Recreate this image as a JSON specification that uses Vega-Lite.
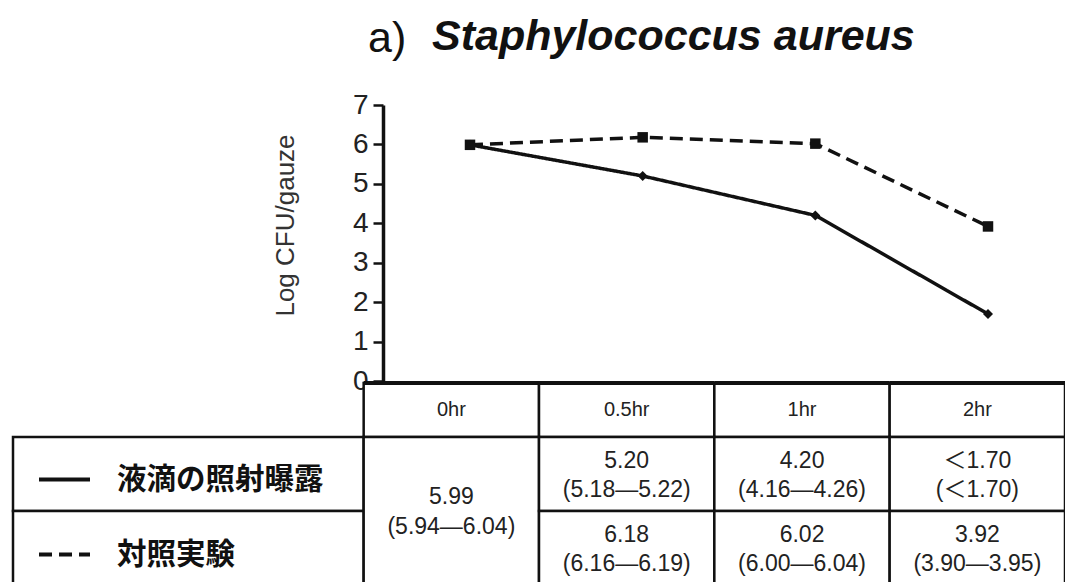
{
  "$schema": "https://vega.github.io/schema/vega-lite/v6.json",
  "width": 1065,
  "height": 582,
  "padding": 0,
  "autosize": {"type": "none"},
  "background": "white",
  "config": {"view": {"stroke": null}, "font": "Liberation Sans"},
  "title": {
    "text": "a)",
    "subtitle": "Staphylococcus aureus",
    "orient": "top",
    "anchor": "start",
    "frame": "group",
    "offset": -63,
    "dx": 368,
    "font": "Liberation Sans",
    "fontSize": 43,
    "fontWeight": "normal",
    "color": "#111",
    "subtitleFont": "Liberation Sans",
    "subtitleFontSize": 43,
    "subtitleFontStyle": "italic",
    "subtitleFontWeight": "bold",
    "subtitleColor": "#111",
    "subtitlePadding": -45,
    "encode": {"subtitle": {"update": {"dx": {"value": 432}}}}
  },
  "datasets": {
    "series": [
      {"time": "0hr", "group": "液滴の照射曝露", "logcfu": 5.99},
      {"time": "0.5hr", "group": "液滴の照射曝露", "logcfu": 5.20},
      {"time": "1hr", "group": "液滴の照射曝露", "logcfu": 4.20},
      {"time": "2hr", "group": "液滴の照射曝露", "logcfu": 1.70},
      {"time": "0hr", "group": "対照実験", "logcfu": 5.99},
      {"time": "0.5hr", "group": "対照実験", "logcfu": 6.18},
      {"time": "1hr", "group": "対照実験", "logcfu": 6.02},
      {"time": "2hr", "group": "対照実験", "logcfu": 3.92}
    ],
    "cells": [
      {"c0": 2, "c1": 3, "r0": 0, "r1": 1, "part": "header", "text": "0hr"},
      {"c0": 3, "c1": 4, "r0": 0, "r1": 1, "part": "header", "text": "0.5hr"},
      {"c0": 4, "c1": 5, "r0": 0, "r1": 1, "part": "header", "text": "1hr"},
      {"c0": 5, "c1": 6, "r0": 0, "r1": 1, "part": "header", "text": "2hr"},
      {"c0": 0, "c1": 2, "r0": 1, "r1": 2, "part": "legend", "text": ""},
      {"c0": 0, "c1": 2, "r0": 2, "r1": 3, "part": "legend", "text": ""},
      {"c0": 2, "c1": 3, "r0": 1, "r1": 3, "part": "merged", "text": "5.99\n(5.94—6.04)"},
      {"c0": 3, "c1": 4, "r0": 1, "r1": 2, "part": "value", "text": "5.20\n(5.18—5.22)"},
      {"c0": 4, "c1": 5, "r0": 1, "r1": 2, "part": "value", "text": "4.20\n(4.16—4.26)"},
      {"c0": 5, "c1": 6, "r0": 1, "r1": 2, "part": "value", "text": "＜1.70\n(＜1.70)"},
      {"c0": 3, "c1": 4, "r0": 2, "r1": 3, "part": "value", "text": "6.18\n(6.16—6.19)"},
      {"c0": 4, "c1": 5, "r0": 2, "r1": 3, "part": "value", "text": "6.02\n(6.00—6.04)"},
      {"c0": 5, "c1": 6, "r0": 2, "r1": 3, "part": "value", "text": "3.92\n(3.90—3.95)"}
    ]
  },
  "layer": [
    {
      "data": {"name": "cells"},
      "layer": [
        {
          "mark": {"type": "rect", "fill": "white", "stroke": "#111", "strokeWidth": 2.5},
          "encoding": {
            "x": {"field": "c0", "type": "quantitative", "scale": {"domain": [0, 6], "range": [13, 1065], "zero": false, "nice": false}, "axis": null},
            "x2": {"field": "c1"},
            "y": {"field": "r0", "type": "quantitative", "scale": {"domain": [0, 1, 3], "range": [383, 437, 585], "zero": false, "nice": false}, "axis": null},
            "y2": {"field": "r1"}
          }
        },
        {
          "transform": [{"filter": "datum.part === 'header'"}],
          "mark": {"type": "rule", "stroke": "#111", "strokeWidth": 4},
          "encoding": {
            "x": {"field": "c0", "type": "quantitative"},
            "x2": {"field": "c1"},
            "y": {"field": "r0", "type": "quantitative"}
          }
        },
        {
          "transform": [{"filter": "datum.part === 'header'"}],
          "mark": {"type": "text", "align": "center", "baseline": "middle", "dx": 87.7, "dy": 27, "fontSize": 20, "color": "#222", "font": "Liberation Sans"},
          "encoding": {
            "x": {"field": "c0", "type": "quantitative"},
            "y": {"field": "r0", "type": "quantitative"},
            "text": {"field": "text"}
          }
        },
        {
          "transform": [{"filter": "datum.part === 'value'"}],
          "mark": {"type": "text", "lineBreak": "\n", "align": "center", "baseline": "middle", "dx": 87.7, "dy": 24, "fontSize": 23, "lineHeight": 29, "color": "#222", "font": "Liberation Sans, Noto Sans CJK JP"},
          "encoding": {
            "x": {"field": "c0", "type": "quantitative"},
            "y": {"field": "r0", "type": "quantitative"},
            "text": {"field": "text"}
          }
        },
        {
          "transform": [{"filter": "datum.part === 'merged'"}],
          "mark": {"type": "text", "lineBreak": "\n", "align": "center", "baseline": "middle", "dx": 87.7, "dy": 60, "fontSize": 23, "lineHeight": 30, "color": "#222", "font": "Liberation Sans"},
          "encoding": {
            "x": {"field": "c0", "type": "quantitative"},
            "y": {"field": "r0", "type": "quantitative"},
            "text": {"field": "text"}
          }
        }
      ]
    },
    {
      "data": {"name": "series"},
      "layer": [
        {
          "mark": {"type": "line", "color": "#111", "strokeWidth": 3.5},
          "encoding": {
            "x": {"field": "time", "type": "ordinal", "sort": ["0hr", "0.5hr", "1hr", "2hr"], "scale": {"type": "point", "range": [470, 988], "padding": 0}, "axis": null},
            "y": {
              "field": "logcfu", "type": "quantitative",
              "scale": {"domain": [0, 7], "range": [381, 105], "nice": false, "zero": false},
              "axis": {
                "orient": "left", "offset": -383, "values": [0, 1, 2, 3, 4, 5, 6, 7], "format": "d",
                "grid": false, "domainColor": "#111", "domainWidth": 3.5,
                "tickColor": "#111", "tickWidth": 2.5, "tickSize": 10,
                "labelFont": "Liberation Sans", "labelFontSize": 28, "labelColor": "#222", "labelPadding": 5,
                "title": "Log CFU/gauze", "titleFont": "Liberation Sans", "titleFontSize": 26, "titleFontWeight": "normal",
                "titleColor": "#333", "titlePadding": 54, "titleY": 225
              }
            },
            "strokeDash": {
              "field": "group", "type": "nominal",
              "scale": {"domain": ["液滴の照射曝露", "対照実験"], "range": [[1, 0], [13, 7]]},
              "legend": {
                "title": null, "orient": "none", "legendX": 37, "legendY": 452,
                "symbolType": "stroke", "symbolSize": 2600, "symbolStrokeWidth": 4, "symbolStrokeColor": "#111",
                "labelFont": "Noto Sans CJK JP", "labelFontSize": 29.5, "labelFontWeight": "bold", "labelColor": "#111",
                "labelOffset": 25, "rowPadding": 33, "padding": 0, "labelLimit": 400
              }
            }
          }
        },
        {
          "transform": [{"filter": "datum.group === '液滴の照射曝露'"}],
          "mark": {"type": "point", "shape": "diamond", "filled": true, "color": "#111", "opacity": 1, "size": 100},
          "encoding": {
            "x": {"field": "time", "type": "ordinal", "sort": ["0hr", "0.5hr", "1hr", "2hr"]},
            "y": {"field": "logcfu", "type": "quantitative"}
          }
        },
        {
          "transform": [{"filter": "datum.group === '対照実験'"}],
          "mark": {"type": "point", "shape": "square", "filled": true, "color": "#111", "opacity": 1, "size": 110},
          "encoding": {
            "x": {"field": "time", "type": "ordinal", "sort": ["0hr", "0.5hr", "1hr", "2hr"]},
            "y": {"field": "logcfu", "type": "quantitative"}
          }
        }
      ]
    }
  ],
  "resolve": {"scale": {"x": "independent", "y": "independent"}}
}
